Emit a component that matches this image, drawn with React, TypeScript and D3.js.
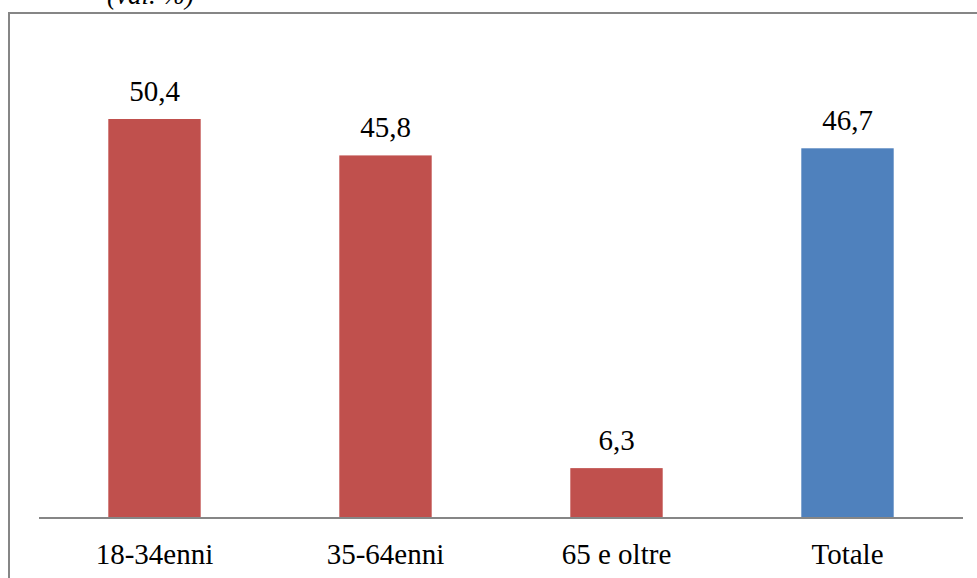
import React from "react";
import * as d3 from "d3";

const categories = ["18-34enni", "35-64enni", "65 e oltre", "Totale"];
const values = [50.4, 45.8, 6.3, 46.7];
const valueLabels = ["50,4", "45,8", "6,3", "46,7"];
const barColors = ["#C0504D", "#C0504D", "#C0504D", "#4F81BD"];
const subtitle = "(val. %)";

const font = "Liberation Serif";

export default function App() {
  const W = 977;
  const H = 578;
  const left = 39;
  const right = 963;
  const baseY = 518;
  const x = d3.scaleBand<string>().domain(categories).range([left, right]).paddingInner(0.6).paddingOuter(0.3);
  const y = d3.scaleLinear().domain([0, 60]).range([baseY, baseY - 475]);
  return (
    <svg width={W} height={H} style={{ position: "absolute", left: 0, top: 0 }}>
      <rect x={0} y={0} width={W} height={H} fill="#fff" />
      <text x={107} y={4} fontSize={27} fontStyle="italic" fill="#000" fontFamily={font}>{subtitle}</text>
      <path d={`M9,${H + 2} V13 H${W + 2}`} fill="none" stroke="#868686" strokeWidth={2} />
      {categories.map((c, i) => (
        <rect key={c} x={x(c)} y={y(values[i])} width={x.bandwidth()} height={baseY - y(values[i])} fill={barColors[i]} />
      ))}
      <line x1={left} x2={right} y1={baseY} y2={baseY} stroke="#868686" strokeWidth={2} />
      {categories.map((c, i) => (
        <text key={c + "v"} x={(x(c) as number) + x.bandwidth() / 2} y={y(values[i]) - 18} textAnchor="middle" fontSize={29} fill="#000" fontFamily={font}>{valueLabels[i]}</text>
      ))}
      {categories.map((c) => (
        <text key={c + "l"} x={(x(c) as number) + x.bandwidth() / 2} y={564} textAnchor="middle" fontSize={29} fill="#000" fontFamily={font}>{c}</text>
      ))}
    </svg>
  );
}
